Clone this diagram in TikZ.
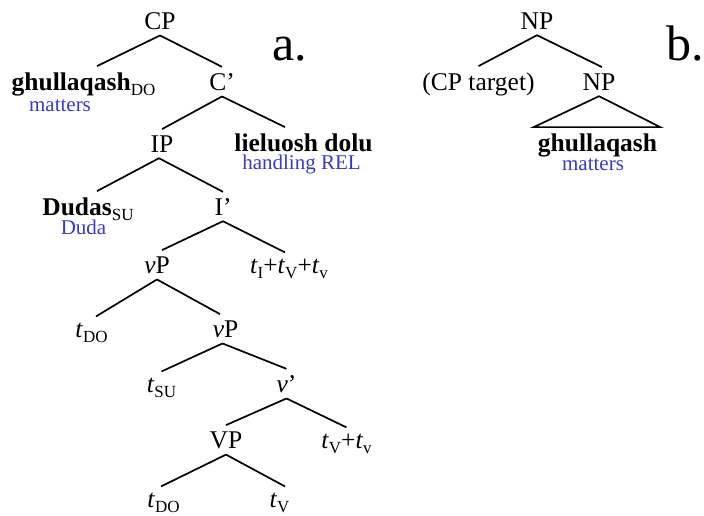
\documentclass[tikz,border=0pt]{standalone}
\usepackage{fontspec}
\setmainfont{Liberation Serif}
\usepackage{tikz}
\usetikzlibrary{positioning}
\definecolor{bleu}{RGB}{55,55,210}
\newcommand{\sub}[1]{\raisebox{-5pt}{\fontsize{17}{17}\selectfont\mdseries #1}}
\newcommand{\tr}{\textit{t}}
\tikzstyle{cat}=[
        anchor=base,
        inner xsep=0pt,
        inner ysep=6pt,
        font=\fontsize{25.5}{30}\selectfont
]
\tikzstyle{mot}=[cat,font=\fontsize{25.5}{30}\selectfont\bfseries]
\tikzstyle{glose}=[anchor=base,inner sep=0pt,text=bleu,font=\fontsize{21}{24}\selectfont]
\tikzstyle{lettre}=[anchor=base west,inner sep=0pt,font=\fontsize{50}{56}\selectfont]
\tikzstyle{branche}=[line width=1.7pt]

\begin{document}
\begin{tikzpicture}[x=1pt,y=-1pt]
\useasboundingbox (0,0) rectangle (704,515);
\node[cat] (cp) at (160,29) {CP};
\node[mot] (ghul) at (83.5,90) {ghullaqash\sub{DO}};
\node[glose] (ghulg) at (60,111) {matters};
\node[cat] (cbar) at (222,90) {C’};
\node[cat] (ip) at (162,152) {IP};
\node[mot] (rel) at (303.5,151) {lieluosh dolu};
\node[glose] (relg) at (301.5,169) {handling REL};
\node[mot] (dudas) at (88,215) {Dudas\sub{SU}};
\node[glose] (dudag) at (83.5,234) {Duda};
\node[cat] (ibar) at (223,215) {I’};
\node[cat] (vpa) at (157,273) {\textit{v}P};
\node[cat] (tinfl) at (289,273) {\tr\sub{I}+\tr\sub{V}+\tr\sub{v}};
\node[cat] (tdoa) at (91.5,337) {\tr\sub{DO}};
\node[cat] (vpb) at (225.5,337) {\textit{v}P};
\node[cat] (tsu) at (161.5,392) {\tr\sub{SU}};
\node[cat] (vbar) at (286.5,392) {\textit{v}’};
\node[cat] (vpc) at (226,448) {VP};
\node[cat] (tvv) at (346.5,448) {\tr\sub{V}+\tr\sub{v}};
\node[cat] (tdob) at (163.5,507) {\tr\sub{DO}};
\node[cat] (tv) at (279.5,507) {\tr\sub{V}};
\node[lettre] (la) at (272,60) {a.};
\node[cat] (npa) at (537,29) {NP};
\node[cat] (cpt) at (478.5,90) {(CP target)};
\node[cat] (npb) at (599,90) {NP};
\node[mot] (ghulb) at (597.5,151) {ghullaqash};
\node[glose] (ghulbg) at (593,170) {matters};
\node[lettre] (lb) at (666,60) {b.};
%Placementdesbranches
\draw[branche] (cp.south) -- ([xshift=13.5pt]ghul.north);
\draw[branche] (cp.south) -- (cbar.north);
\draw[branche] (cbar.south) -- (ip.north);
\draw[branche] (cbar.south) -- ([xshift=-18.5pt]rel.north);
\draw[branche] ([xshift=-3pt]ip.south) -- ([xshift=9pt]dudas.north);
\draw[branche] ([xshift=-3pt]ip.south) -- (ibar.north);
\draw[branche] (ibar.south) -- ([xshift=5pt]vpa.north);
\draw[branche] (ibar.south) -- ([xshift=-4pt]tinfl.north);
\draw[branche] (vpa.south) -- ([xshift=4.5pt]tdoa.north);
\draw[branche] (vpa.south) -- ([xshift=-5.5pt]vpb.north);
\draw[branche] ([xshift=-3pt]vpb.south) -- (tsu.north);
\draw[branche] ([xshift=-3pt]vpb.south) -- (vbar.north);
\draw[branche] (vbar.south) -- (vpc.north);
\draw[branche] (vbar.south) -- (tvv.north);
\draw[branche] (vpc.south) -- ([xshift=-2.5pt]tdob.north);
\draw[branche] (vpc.south) -- ([xshift=5.5pt]tv.north);
\draw[branche] (npa.south) -- (cpt.north);
\draw[branche] (npa.south) -- ([xshift=3pt]npb.north);
\draw[branche] (npb.south) -- ([xshift=-4pt]ghulb.north west) -- ([xshift=3pt]ghulb.north east) -- cycle;
\end{tikzpicture}
\end{document}
